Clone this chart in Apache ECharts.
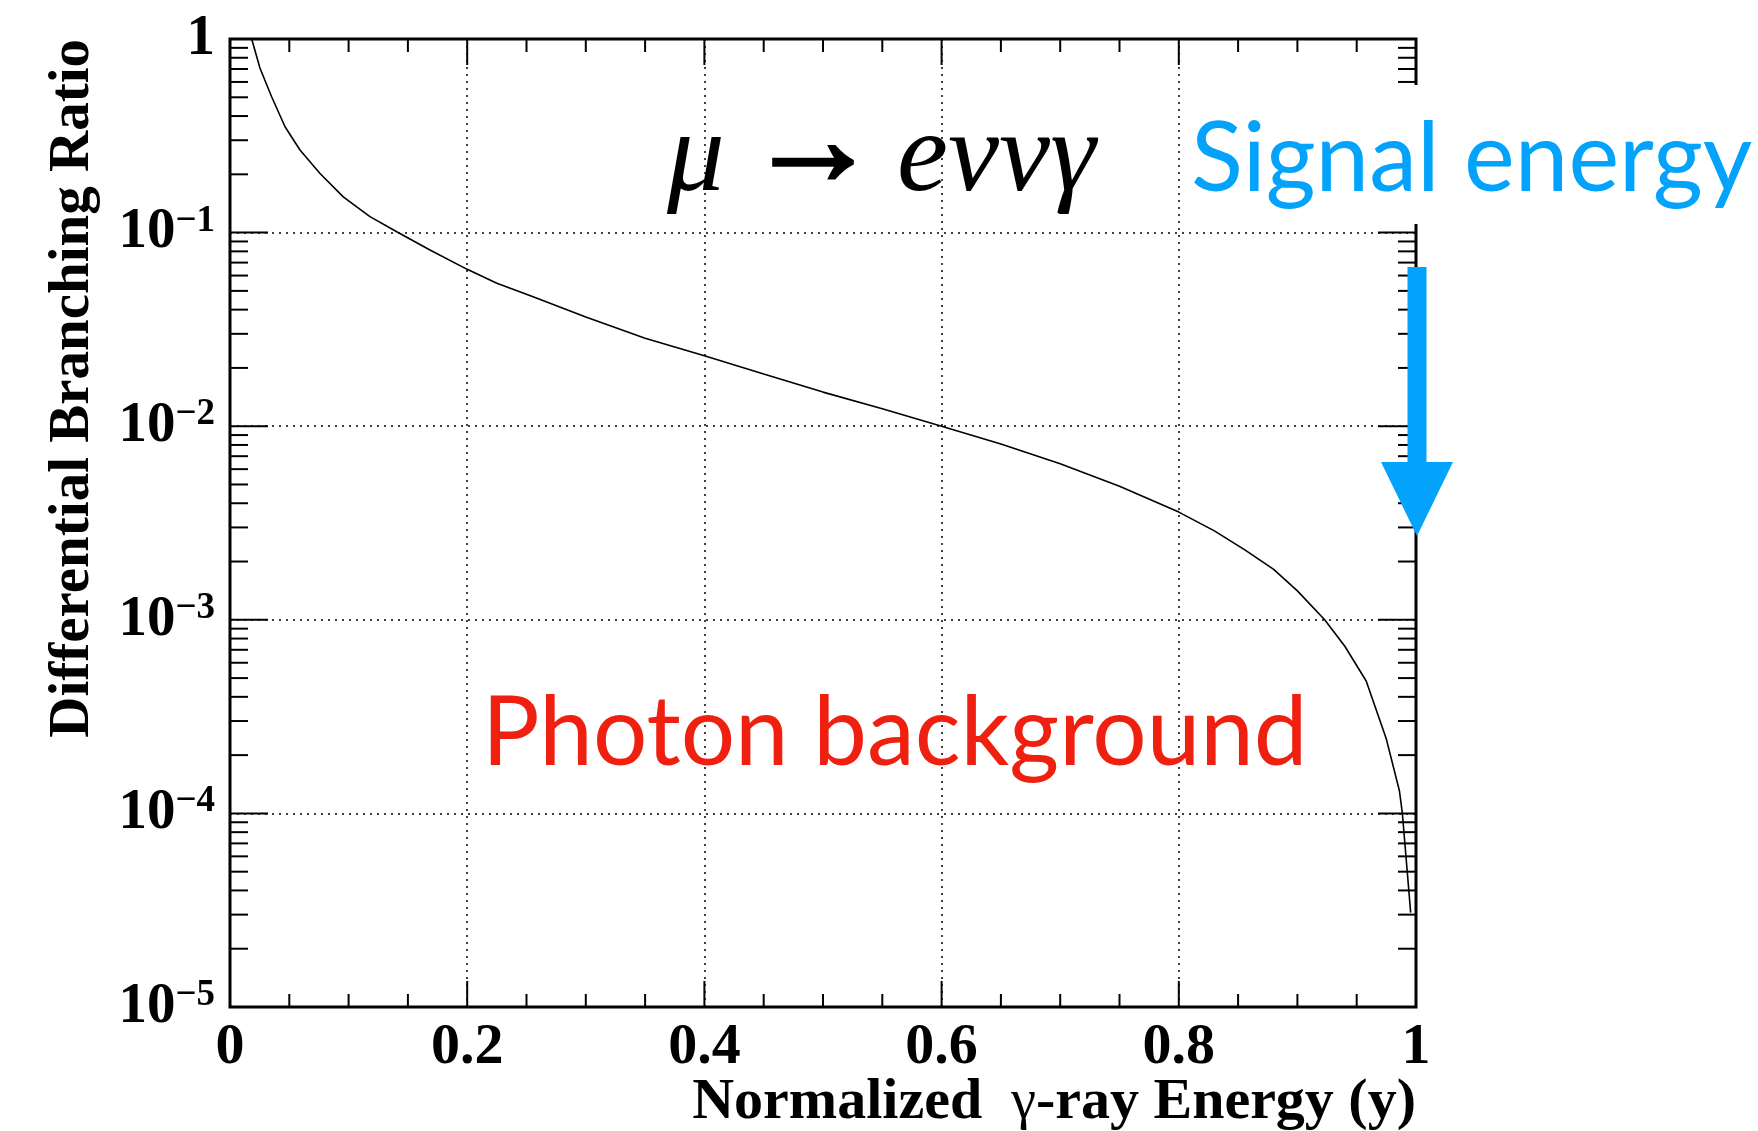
<!DOCTYPE html>
<html>
<head>
<meta charset="utf-8">
<title>mu -> e nu nu gamma</title>
<script src="https://cdn.jsdelivr.net/npm/echarts@6/dist/echarts.min.js"></script>
<style>
  html, body { margin: 0; padding: 0; background: #fff; }
  #main { width: 1758px; height: 1131px; }
</style>
</head>
<body>
<div id="main"></div>
<script>
// curve: normalized photon energy y -> differential BR
const energy = [0.0183, 0.0253, 0.0351, 0.0464, 0.059, 0.0759, 0.0955, 0.118, 0.1406, 0.1686,
  0.2, 0.225, 0.255, 0.3, 0.35, 0.4, 0.45, 0.5, 0.55, 0.6,
  0.65, 0.7, 0.75, 0.8, 0.83, 0.856, 0.88, 0.9, 0.923, 0.94,
  0.958, 0.975, 0.986, 0.9885, 0.9955]
const branching = [1.0, 0.706, 0.503, 0.352, 0.267, 0.202, 0.153, 0.121, 0.101, 0.0813,
  0.0646, 0.0547, 0.0467, 0.0366, 0.0285, 0.0231, 0.0186, 0.0150, 0.0123, 0.0100,
  0.0081, 0.0064, 0.0049, 0.0036, 0.00288, 0.00229, 0.00182, 0.00141, 0.0010, 0.00073,
  0.000483, 0.000242, 0.000131, 0.0001, 0.0000307]

const xMajorTicks = [0, 0.2, 0.4, 0.6, 0.8, 1]
const xMinorTicks = [0.05, 0.1, 0.15, 0.25, 0.3, 0.35, 0.45, 0.5, 0.55, 0.65, 0.7, 0.75, 0.85, 0.9, 0.95]
const yDecades = [1e-5, 1e-4, 1e-3, 1e-2, 1e-1, 1]
const yMinorSteps = [2, 3, 4, 5, 6, 7, 8, 9]

const serif = '"Liberation Serif", "Times New Roman", serif'
const BLUE = '#03a2fb'
const RED = '#ef2010'

const yMinorTicks = []
yDecades.slice(0, -1).forEach(d => yMinorSteps.forEach(s => yMinorTicks.push(d * s)))

const G = { left: 230, top: 39, width: 1186, height: 968 }

function yTickItem(len) {
  return function (params, api) {
    const cs = params.coordSys
    const p = api.coord([0, api.value(1)])
    const st = { stroke: '#000', lineWidth: 2 }
    return {
      type: 'group',
      children: [
        { type: 'line', shape: { x1: cs.x, y1: p[1], x2: cs.x + len, y2: p[1] }, style: st },
        { type: 'line', shape: { x1: cs.x + cs.width, y1: p[1], x2: cs.x + cs.width - len, y2: p[1] }, style: st }
      ]
    }
  }
}

function xTickItem(len) {
  return function (params, api) {
    const cs = params.coordSys
    const p = api.coord([api.value(0), 1])
    const st = { stroke: '#000', lineWidth: 2 }
    return {
      type: 'group',
      children: [
        { type: 'line', shape: { x1: p[0], y1: cs.y + cs.height, x2: p[0], y2: cs.y + cs.height - len }, style: st },
        { type: 'line', shape: { x1: p[0], y1: cs.y, x2: p[0], y2: cs.y + len }, style: st }
      ]
    }
  }
}

const chart = echarts.init(document.getElementById('main'), null, { renderer: 'canvas' })

chart.setOption({
  animation: false,
  backgroundColor: '#fff',
  grid: Object.assign({ show: true, borderColor: '#000', borderWidth: 3, backgroundColor: 'transparent' }, G),
  xAxis: {
    type: 'value',
    min: 0,
    max: 1,
    interval: 0.2,
    axisLine: { show: false },
    axisTick: { show: false },
    splitLine: { show: true, lineStyle: { color: '#000', width: 1.5, type: [2, 5] } },
    axisLabel: {
      margin: 12,
      fontFamily: serif,
      fontWeight: 'bold',
      fontSize: 58,
      color: '#000',
      formatter: v => (v === 0 || v === 1) ? String(v) : v.toFixed(1)
    }
  },
  yAxis: {
    type: 'log',
    logBase: 10,
    min: 1e-5,
    max: 1,
    splitNumber: 5,
    axisLine: { show: false },
    axisTick: { show: false },
    splitLine: { show: true, lineStyle: { color: '#000', width: 1.5, type: [2, 5] } },
    axisLabel: {
      margin: 15,
      color: '#000',
      formatter: v => {
        const e = Math.round(Math.log10(v))
        if (e === 0) return '{b|1}'
        return '{b|10}{s|\u2212' + (-e) + '}'
      },
      rich: {
        b: { fontFamily: serif, fontWeight: 'bold', fontSize: 57, color: '#000', lineHeight: 60 },
        s: { fontFamily: serif, fontWeight: 'bold', fontSize: 37, color: '#000', verticalAlign: 'top', lineHeight: 30 }
      }
    }
  },
  series: [
    {
      type: 'line',
      data: energy.map((x, i) => [x, branching[i]]),
      showSymbol: false,
      smooth: false,
      lineStyle: { color: '#000', width: 1.6 },
      z: 5
    },
    { type: 'custom', data: yMinorTicks.map(v => [0, v]), renderItem: yTickItem(18), clip: false, silent: true, z: 6 },
    { type: 'custom', data: yDecades.map(v => [0, v]), renderItem: yTickItem(38), clip: false, silent: true, z: 6 },
    { type: 'custom', data: xMinorTicks.map(v => [v, 1]), renderItem: xTickItem(13), clip: false, silent: true, z: 6 },
    { type: 'custom', data: xMajorTicks.map(v => [v, 1]), renderItem: xTickItem(26), clip: false, silent: true, z: 6 }
  ],
  graphic: [
    // axis titles
    {
      type: 'text',
      x: 1416, y: 1103,
      z: 100,
      style: {
        text: '{b|Normalized  }{g|\u03b3}{b|-ray Energy (y)}',
        align: 'right', verticalAlign: 'middle',
        rich: {
          b: { fontFamily: serif, fontWeight: 'bold', fontSize: 58, fill: '#000' },
          g: { fontFamily: serif, fontWeight: 'normal', fontSize: 56, fill: '#000' }
        }
      }
    },
    {
      type: 'text',
      x: 73, y: 39,
      rotation: Math.PI / 2,
      z: 100,
      style: {
        text: 'Differential Branching Ratio',
        font: 'bold 57px ' + serif,
        fill: '#000',
        align: 'right', verticalAlign: 'middle'
      }
    },
    // process label  mu -> e nu nu gamma
    {
      type: 'text', x: 667, y: 217, z: 100,
      style: { text: '\u03bc', font: 'italic 115px ' + serif, fill: '#000', align: 'left', verticalAlign: 'bottom' }
    },
    {
      type: 'text', x: 813, y: 150, z: 100,
      style: {
        text: '\u2192', font: 'bold 132px ' + serif, fill: '#000',
        stroke: '#000', lineWidth: 3.5,
        align: 'center', verticalAlign: 'middle'
      }
    },
    {
      type: 'text', x: 897, y: 217, z: 100,
      style: { text: 'e\u03bd\u03bd\u03b3', font: 'italic 115px ' + serif, fill: '#000', align: 'left', verticalAlign: 'bottom' }
    },
    // white box behind the signal label hides the frame there
    {
      type: 'rect', z: 90,
      shape: { x: 1185, y: 85, width: 573, height: 139 },
      style: { fill: '#fff' }
    },
    {
      type: 'text',
      x: 1191, y: 160,
      z: 100,
      style: {
        text: 'Signal energy',
        font: '96px Lato',
        fill: BLUE,
        align: 'left', verticalAlign: 'middle'
      }
    },
    {
      type: 'text',
      x: 482, y: 734,
      z: 100,
      style: {
        text: 'Photon background',
        font: '96px Lato',
        fill: RED,
        align: 'left', verticalAlign: 'middle'
      }
    },
    // signal arrow at y = 1
    {
      type: 'group',
      z: 100,
      children: [
        { type: 'rect', z: 100, shape: { x: 1407.5, y: 267, width: 19, height: 197 }, style: { fill: BLUE } },
        { type: 'polygon', z: 100, shape: { points: [[1381, 462], [1453, 462], [1417, 536]] }, style: { fill: BLUE } }
      ]
    }
  ]
})
</script>
</body>
</html>
